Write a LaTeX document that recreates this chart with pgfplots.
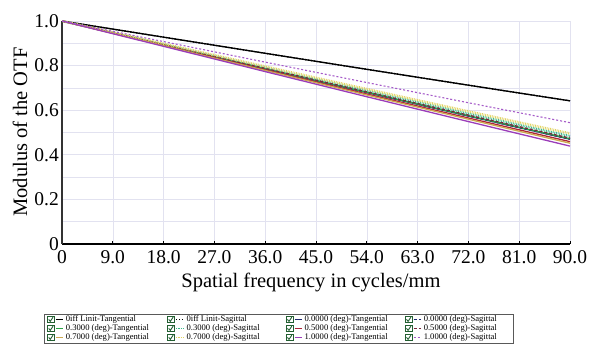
\documentclass[border=0pt]{standalone}
\usepackage{pgfplots}
\pgfplotsset{compat=1.18}
\usepackage{fontspec}
\setmainfont{Liberation Serif}
\definecolor{gridc}{RGB}{226,226,240}
\definecolor{navyc}{RGB}{30,40,110}
\definecolor{greenc}{RGB}{40,165,70}
\definecolor{greens}{RGB}{60,185,140}
\definecolor{redc}{RGB}{175,35,55}
\definecolor{reds}{RGB}{120,40,60}
\definecolor{olivec}{RGB}{205,170,80}
\definecolor{yellows}{RGB}{225,210,95}
\definecolor{purplec}{RGB}{155,60,185}
\definecolor{purples}{RGB}{165,90,200}
\definecolor{chk}{RGB}{35,95,50}
\newcommand{\la}[1]{\makebox[100pt][l]{#1}}
\newcommand{\lb}[1]{\makebox[98pt][l]{#1}}
\newcommand{\lc}[1]{\makebox[99pt][l]{#1}}
\newcommand{\ld}[1]{\makebox[86pt][l]{#1}}
\begin{document}
\begin{tikzpicture}
\begin{axis}[
  scale only axis, width=508pt, height=223pt,
  xmin=0, xmax=90, ymin=0, ymax=1,
  axis x line=bottom, axis y line=left,
  axis line style={-},
  x axis line style={black, line width=2.4pt},
  y axis line style={black!80, line width=2pt},
  xtick={0,9,18,27,36,45,54,63,72,81,90},
  xticklabels={0,9.0,18.0,27.0,36.0,45.0,54.0,63.0,72.0,81.0,90.0},
  ytick={0,0.2,0.4,0.6,0.8,1},
  yticklabels={0,0.2,0.4,0.6,0.8,1.0},
  minor ytick={0.1,0.3,0.5,0.7,0.9},
  grid=both,
  major grid style={gridc, line width=0.6pt},
  minor grid style={gridc, line width=0.6pt},
  tick align=inside, major tick length=3pt, minor tick length=0pt,
  xtick style={black, line width=0.8pt}, ytick style={draw=none},
  ticklabel style={font=\fontsize{19.5}{20}\selectfont},
  yticklabel style={inner xsep=3pt},
  xticklabel style={inner ysep=6pt},
  xlabel={Spatial frequency in cycles/mm},
  ylabel={Modulus of the OTF},
  label style={font=\fontsize{20.5}{22}\selectfont},
  xlabel style={at={(axis description cs:0.49,-0.193)}, anchor=base},
  ylabel style={at={(axis description cs:-0.0689,0.502)}, anchor=base},
  legend columns=4,
  legend cell align=left,
  legend style={at={(axis description cs:-0.035,-0.312)}, anchor=north west,
    draw=gray!70!black, line width=0.6pt, inner xsep=2.3pt, inner ysep=1.2pt,
    row sep=0pt, font=\fontsize{8.6}{9}\selectfont,
    nodes={inner xsep=1pt, inner ysep=0.5pt, text height=6pt, text depth=2pt}},
  legend image code/.code={
    \draw[draw=chk, fill=white, line width=0.9pt, solid] (0pt,-3.3pt) rectangle (7pt,3.3pt);
    \draw[draw=chk, line width=0.9pt, solid] (1.4pt,0.2pt) -- (3pt,-1.8pt) -- (5.8pt,2.4pt);
    \draw[#1, line width=1pt] (8.5pt,0pt) -- (16pt,0pt);
    \path (17pt,0pt);
  },
]
% Diffraction limit
\addplot[black, line width=1.3pt] coordinates {(0,1) (9,0.9637) (18,0.9275) (27,0.8913) (36,0.8552) (45,0.8192) (54,0.7833) (63,0.7477) (72,0.7122) (81,0.6770) (90,0.6420)};
\addplot[black, line width=1.3pt, dash pattern=on 1.5pt off 1.5pt] coordinates {(0,1) (9,0.9637) (18,0.9275) (27,0.8913) (36,0.8552) (45,0.8192) (54,0.7833) (63,0.7477) (72,0.7122) (81,0.6770) (90,0.6420)};
% 0.0 deg
\addplot[navyc, line width=1.3pt] coordinates {(0,1) (9,0.9463) (18,0.8927) (27,0.8391) (36,0.7856) (45,0.7323) (54,0.6792) (63,0.6265) (72,0.5739) (81,0.5218) (90,0.470)};
\addplot[navyc, line width=1.3pt, dash pattern=on 3pt off 2pt] coordinates {(0,1) (9,0.9463) (18,0.8927) (27,0.8391) (36,0.7856) (45,0.7323) (54,0.6792) (63,0.6265) (72,0.5739) (81,0.5218) (90,0.470)};
% 0.3 deg
\addplot[greenc, line width=1.3pt] coordinates {(0,1) (9,0.9465) (18,0.8931) (27,0.8397) (36,0.7864) (45,0.7334) (54,0.6804) (63,0.6279) (72,0.5755) (81,0.5236) (90,0.472)};
\addplot[greens, line width=2.2pt, dash pattern=on 0.8pt off 0.9pt] coordinates {(0,1) (9,0.9477) (18,0.8955) (27,0.8433) (36,0.7913) (45,0.7394) (54,0.6877) (63,0.6363) (72,0.5852) (81,0.5345) (90,0.484)};
% 0.5 deg
\addplot[redc, line width=1.3pt] coordinates {(0,1) (9,0.9451) (18,0.8904) (27,0.8358) (36,0.7812) (45,0.7268) (54,0.6725) (63,0.6187) (72,0.5651) (81,0.5119) (90,0.459)};
\addplot[reds, line width=1.3pt, dash pattern=on 3pt off 2pt] coordinates {(0,1) (9,0.9468) (18,0.8937) (27,0.8406) (36,0.7876) (45,0.7349) (54,0.6822) (63,0.6300) (72,0.5780) (81,0.5263) (90,0.475)};
% 0.7 deg
\addplot[olivec, line width=1.3pt] coordinates {(0,1) (9,0.9444) (18,0.8890) (27,0.8336) (36,0.7783) (45,0.7233) (54,0.6683) (63,0.6138) (72,0.5595) (81,0.5056) (90,0.452)};
\addplot[yellows, line width=2.4pt, dash pattern=on 0.8pt off 0.9pt] coordinates {(0,1) (9,0.9489) (18,0.8979) (27,0.8470) (36,0.7961) (45,0.7455) (54,0.6949) (63,0.6448) (72,0.5948) (81,0.5453) (90,0.496)};
% 1.0 deg
\addplot[purplec, line width=1.3pt] coordinates {(0,1) (9,0.9431) (18,0.8864) (27,0.8297) (36,0.7731) (45,0.7167) (54,0.6604) (63,0.6046) (72,0.5490) (81,0.4939) (90,0.439)};
\addplot[purples, line width=1.1pt, dash pattern=on 2pt off 2pt] coordinates {(0,1) (9,0.9538) (18,0.9077) (27,0.8616) (36,0.8155) (45,0.7697) (54,0.7240) (63,0.6786) (72,0.6334) (81,0.5886) (90,0.544)};
\legend{\la{0iff Linit-Tangential}, \lb{0iff Linit-Sagittal}, \lc{0.0000 (deg)-Tangential}, \ld{0.0000 (deg)-Sagittal},
\la{0.3000 (deg)-Tangential}, \lb{0.3000 (deg)-Sagittal}, \lc{0.5000 (deg)-Tangential}, \ld{0.5000 (deg)-Sagittal},
\la{0.7000 (deg)-Tangential}, \lb{0.7000 (deg)-Sagittal}, \lc{1.0000 (deg)-Tangential}, \ld{1.0000 (deg)-Sagittal}}
\end{axis}
\pgfresetboundingbox
\path[use as bounding box] ([shift={(-62pt,-103pt)}]current axis.south west) rectangle ([shift={(20pt,21pt)}]current axis.north east);
\end{tikzpicture}
\end{document}
